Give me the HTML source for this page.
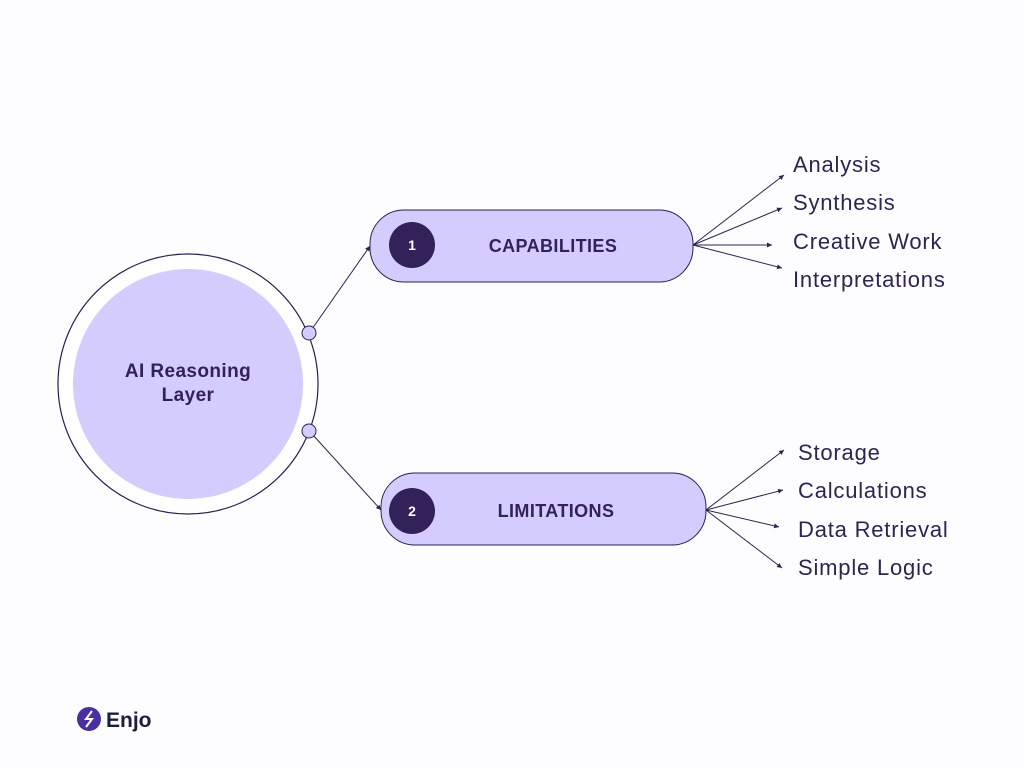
<!DOCTYPE html>
<html><head><style>body{margin:0;background:#fdfcfe}</style></head><body>
<svg width="1024" height="768" xmlns="http://www.w3.org/2000/svg" style="display:block">
<defs><marker id="a" markerWidth="6" markerHeight="6" refX="5" refY="3" orient="auto"><path d="M0,0.5 L5,3 L0,5.5z" fill="#2d2550"/></marker></defs>
<rect width="1024" height="768" fill="#fdfcfe"/>
<circle cx="188" cy="384" r="130" fill="#fff" stroke="#2a2050" stroke-width="1.2"/>
<circle cx="188" cy="384" r="115" fill="#d4ccfc"/>
<text x="188" y="377" text-anchor="middle" font-family="Liberation Sans,sans-serif" font-weight="bold" font-size="19" letter-spacing="0.4" fill="#33215a">AI Reasoning</text>
<text x="188" y="401" text-anchor="middle" font-family="Liberation Sans,sans-serif" font-weight="bold" font-size="19" letter-spacing="0.4" fill="#33215a">Layer</text>
<g stroke="#2d2550" stroke-width="1" marker-end="url(#a)">
<line x1="312" y1="329" x2="370" y2="246"/>
<line x1="313" y1="435" x2="381" y2="510"/>
<line x1="693" y1="245" x2="784" y2="175"/>
<line x1="693" y1="245" x2="782" y2="208"/>
<line x1="693" y1="245" x2="772" y2="245"/>
<line x1="693" y1="245" x2="782" y2="268"/>
<line x1="706" y1="510" x2="784" y2="450"/>
<line x1="706" y1="510" x2="783" y2="490"/>
<line x1="706" y1="510" x2="779" y2="527"/>
<line x1="706" y1="510" x2="782" y2="568"/>
</g>
<circle cx="309" cy="333" r="7" fill="#d4ccfc" stroke="#2a2050"/>
<circle cx="309" cy="431" r="7" fill="#d4ccfc" stroke="#2a2050"/>
<rect x="370" y="210" width="323" height="72" rx="34" fill="#d4ccfc" stroke="#2a2050"/>
<circle cx="412" cy="245" r="23" fill="#33215a"/>
<text x="412" y="250" text-anchor="middle" font-family="Liberation Sans,sans-serif" font-weight="bold" font-size="14" fill="#fff">1</text>
<text x="553" y="252" text-anchor="middle" font-family="Liberation Sans,sans-serif" font-weight="bold" font-size="18" letter-spacing="0.4" fill="#33215a">CAPABILITIES</text>
<rect x="381" y="473" width="325" height="72" rx="34" fill="#d4ccfc" stroke="#2a2050"/>
<circle cx="412" cy="511" r="23" fill="#33215a"/>
<text x="412" y="516" text-anchor="middle" font-family="Liberation Sans,sans-serif" font-weight="bold" font-size="14" fill="#fff">2</text>
<text x="556" y="517" text-anchor="middle" font-family="Liberation Sans,sans-serif" font-weight="bold" font-size="18" letter-spacing="0.4" fill="#33215a">LIMITATIONS</text>
<g font-family="Liberation Sans,sans-serif" font-size="22" letter-spacing="0.8" fill="#2d2550">
<text x="793" y="172">Analysis</text>
<text x="793" y="210">Synthesis</text>
<text x="793" y="249">Creative Work</text>
<text x="793" y="287">Interpretations</text>
<text x="798" y="460">Storage</text>
<text x="798" y="498">Calculations</text>
<text x="798" y="537">Data Retrieval</text>
<text x="798" y="575">Simple Logic</text>
</g>
<circle cx="89" cy="719" r="12" fill="#4a2fa0"/>
<path d="M92,711 L86,719 L92,719 L86,727" stroke="#fff" stroke-width="2" fill="none"/>
<text x="106" y="727" font-family="Liberation Sans,sans-serif" font-weight="bold" font-size="21" fill="#1e1e3a">Enjo</text>
</svg>
</body></html>
